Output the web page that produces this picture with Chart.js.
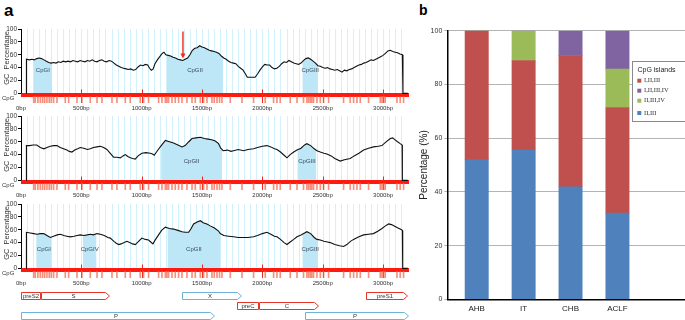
<!DOCTYPE html>
<html>
<head>
<meta charset="utf-8">
<script src="https://cdn.jsdelivr.net/npm/chart.js@4.4.1/dist/chart.umd.min.js"></script>
<style>
  body { margin: 0; background: #fff; width: 685px; height: 320px; overflow: hidden; position: relative;
         font-family: 'Liberation Sans', Arial, sans-serif; }
  .box { position: absolute; }
  .tag { position: absolute; font-weight: bold; line-height: 1; color: #000; }
</style>
</head>
<body>
<div class="tag" style="left:4px;top:2px;font-size:17px">a</div>
<div class="tag" style="left:419px;top:3px;font-size:14px">b</div>

<canvas class="box" id="gc1" width="415" height="92" style="left:0;top:23.3px"></canvas>
<canvas class="box" id="gc2" width="415" height="92" style="left:0;top:109.6px"></canvas>
<canvas class="box" id="gc3" width="415" height="92" style="left:0;top:198px"></canvas>
<canvas class="box" id="genes" width="415" height="34" style="left:0;top:288px"></canvas>
<canvas class="box" id="bars" width="270" height="320" style="left:415px;top:0"></canvas>

<script>
// ── données panneau a ─────────────────────────────────────────────
const GENOME_LEN = 3215;
const Y_TICKS = [0, 20, 40, 60, 80, 100];

// GC % (bp, %)
const GC1 = [[44,0],[45,53],[70,52],[90,53],[110,52],[130,54],[150,55],[170,54],[190,52],[210,50],[230,48],[250,47],[270,48],[290,47],[310,49],[330,48],[350,50],[370,49],[390,50],[410,49],[430,51],[450,50],[470,49],[490,51],[510,50],[530,49],[550,51],[570,50],[590,52],[610,50],[630,49],[650,51],[670,52],[690,50],[710,49],[730,51],[750,50],[770,47],[790,44],[810,42],[830,40],[850,39],[870,38],[890,37],[910,38],[930,36],[950,37],[970,41],[990,44],[1010,43],[1030,45],[1050,44],[1065,39],[1080,36],[1095,38],[1110,46],[1130,52],[1150,57],[1170,62],[1185,64],[1200,60],[1220,59],[1240,58],[1260,56],[1280,55],[1300,53],[1320,52],[1340,51],[1360,53],[1380,55],[1400,60],[1420,67],[1440,70],[1460,71],[1480,74],[1500,72],[1520,71],[1540,69],[1560,67],[1580,66],[1600,65],[1620,64],[1640,62],[1660,58],[1680,55],[1700,53],[1720,50],[1740,48],[1760,47],[1780,46],[1800,42],[1820,39],[1840,36],[1860,30],[1875,25],[1900,25],[1940,25],[1960,30],[1980,36],[2000,41],[2020,45],[2040,44],[2060,44],[2080,40],[2100,38],[2120,39],[2140,42],[2160,46],[2180,49],[2200,48],[2220,51],[2240,49],[2260,47],[2280,46],[2300,45],[2320,47],[2340,51],[2360,54],[2380,55],[2400,53],[2420,50],[2440,47],[2460,43],[2480,42],[2500,40],[2520,39],[2540,40],[2560,38],[2580,37],[2600,36],[2620,37],[2640,35],[2660,33],[2680,36],[2700,35],[2720,37],[2740,38],[2760,40],[2780,42],[2800,44],[2820,45],[2840,47],[2860,48],[2880,50],[2900,52],[2920,51],[2940,53],[2960,55],[2980,57],[3000,59],[3020,62],[3040,66],[3060,67],[3080,65],[3100,64],[3120,63],[3140,61],[3160,60],[3165,0],[3205,0]];

const GC2 = [[44,0],[45,54],[70,54],[100,55],[130,55],[160,51],[190,49],[215,51],[243,53],[270,54],[298,54],[325,51],[353,49],[380,47],[400,45],[422,44],[445,47],[470,49],[491,51],[520,50],[550,48],[574,49],[600,51],[630,52],[657,53],[685,51],[712,48],[740,42],[767,36],[795,36],[823,35],[845,38],[864,40],[885,37],[906,35],[925,34],[947,33],[970,38],[1002,42],[1035,43],[1071,42],[1090,41],[1104,39],[1130,46],[1154,52],[1175,57],[1196,62],[1230,60],[1264,58],[1300,55],[1334,52],[1360,54],[1390,60],[1417,65],[1450,66],[1486,67],[1520,65],[1550,64],[1580,63],[1610,61],[1637,57],[1655,50],[1675,46],[1710,47],[1740,45],[1761,46],[1800,48],[1844,46],[1880,48],[1927,49],[1960,51],[2000,53],[2038,54],[2070,52],[2100,49],[2121,48],[2150,44],[2180,39],[2204,35],[2230,40],[2260,44],[2287,47],[2320,50],[2350,55],[2369,57],[2400,54],[2430,49],[2452,46],[2480,44],[2510,42],[2535,41],[2570,38],[2600,34],[2645,30],[2680,32],[2728,34],[2760,38],[2800,42],[2839,47],[2880,50],[2921,52],[2960,53],[2991,54],[3020,59],[3060,65],[3080,66],[3100,63],[3120,60],[3142,57],[3158,55],[3160,0],[3205,0]];

const GC3 = [[44,0],[45,56],[77,55],[105,54],[133,53],[160,54],[188,54],[215,51],[243,48],[270,50],[300,52],[326,53],[355,51],[380,50],[408,49],[440,50],[465,51],[491,52],[520,51],[550,52],[574,53],[600,52],[630,54],[657,53],[690,51],[720,48],[740,47],[770,42],[790,39],[809,37],[830,38],[855,40],[878,42],[900,40],[925,38],[947,37],[970,41],[1002,47],[1030,45],[1057,44],[1075,41],[1093,38],[1115,45],[1140,52],[1165,59],[1196,64],[1230,62],[1264,61],[1300,59],[1334,57],[1360,56],[1389,56],[1410,62],[1430,69],[1460,72],[1486,74],[1510,71],[1540,69],[1568,66],[1600,63],[1637,58],[1651,54],[1680,51],[1720,50],[1761,49],[1800,48],[1844,48],[1880,48],[1927,49],[1960,51],[2000,54],[2038,56],[2070,53],[2100,50],[2121,49],[2150,45],[2180,40],[2204,37],[2230,41],[2260,45],[2287,49],[2320,52],[2350,55],[2369,57],[2400,54],[2430,48],[2452,45],[2480,44],[2510,42],[2540,41],[2562,40],[2600,37],[2640,35],[2673,34],[2700,37],[2730,42],[2756,45],[2800,49],[2839,52],[2880,53],[2921,54],[2960,58],[2991,62],[3020,66],[3046,69],[3070,68],[3100,65],[3120,63],[3142,61],[3160,59],[3163,0],[3205,0]];

// îlots CpG : nom, début, fin (bp)
const ISLANDS1 = [['CpGI',105,257],['CpGII',1210,1673],['CpGIII',2333,2460]];
const ISLANDS2 = [['CpGII',1162,1665],['CpGIII',2292,2446]];
const ISLANDS3 = [['CpGI',127,251],['CpGIV',514,624],['CpGII',1215,1651],['CpGIII',2333,2460]];

// sites CpG (bp)
const CPG_SITES = [105,118,140,160,179,196,215,234,251,270,298,367,395,464,505,574,630,671,754,795,864,905,988,1016,1057,1140,1168,1196,1209,1223,1251,1278,1306,1334,1375,1417,1444,1486,1513,1541,1582,1601,1624,1645,1665,1734,1831,1927,2024,2093,2121,2148,2231,2287,2341,2369,2383,2397,2410,2424,2452,2480,2507,2549,2673,2728,2756,2784,2811,2880,2977,2991,3004,3018,3115,3142,3170];

const ARROW_BP = 1342; // flèche rouge, graphe 1

// carte génomique
const GENE_NAMES = ['preS2','S','X','preS1','preC','C','P','P'];
const GENE_START = [0, 166, 1334, 2861, 1789, 1974, 0, 2350];
const GENE_END   = [166, 740, 1831, 3203, 1974, 2466, 1610, 3215];
const GENE_ROW   = ['r1','r1','r1','r1','r2','r2','r3','r3'];
const GENE_ROWS  = ['r1','r2','r3'];

// ── données panneau b ─────────────────────────────────────────────
const GROUPS = ['AHB', 'IT', 'CHB', 'ACLF'];
const S_II_III      = [51.9, 55.6, 41.9, 32.1];
const S_I_II_III    = [48.1, 33.3, 48.8, 39.3];
const S_II_III_IV   = [0, 11.1, 0, 14.3];
const S_I_II_III_IV = [0, 0, 9.3, 14.3];
const LEGEND_ORDER = ['I,II,III', 'I,II,III,IV', 'II,III,IV', 'II,III'];

const FONT = "'Liberation Sans', Arial, sans-serif";
const RED = '#ee2a1e';

// ── graphes GC ────────────────────────────────────────────────────
const gcDecor = {
  id: 'gcDecor',
  beforeDatasetsDraw(chart, args, o) {
    const { ctx, chartArea, scales: { x, y } } = chart;
    const y0 = y.getPixelForValue(0), y100 = y.getPixelForValue(100);
    ctx.save();
    // grille cyan pâle
    ctx.strokeStyle = 'rgba(190,236,248,0.7)';
    ctx.lineWidth = 1;
    x.ticks.forEach(t => {
      if (t.value <= 0 || t.value >= GENOME_LEN) return;
      const px = Math.round(x.getPixelForValue(t.value)) + 0.5;
      ctx.beginPath(); ctx.moveTo(px, y100); ctx.lineTo(px, y0); ctx.stroke();
    });
    // îlots : aire sous la courbe, coupée à chaque îlot
    const pts = chart.getDatasetMeta(0).data;
    ctx.fillStyle = '#bde6f6';
    o.islands.forEach(([, s, e]) => {
      const xs = x.getPixelForValue(s), xe = x.getPixelForValue(e);
      ctx.save();
      ctx.beginPath(); ctx.rect(xs, y100 - 5, xe - xs, y0 - y100 + 5); ctx.clip();
      ctx.beginPath();
      ctx.moveTo(pts[0].x, y0);
      pts.forEach(p => ctx.lineTo(p.x, p.y));
      ctx.lineTo(pts[pts.length - 1].x, y0);
      ctx.closePath(); ctx.fill();
      ctx.restore();
    });
    // piste CpG
    ctx.strokeStyle = '#ff1a10';
    ctx.lineWidth = 4;
    const yb = y.getPixelForValue(-2.5);
    ctx.beginPath(); ctx.moveTo(x.getPixelForValue(0), yb); ctx.lineTo(x.getPixelForValue(GENOME_LEN), yb); ctx.stroke();
    ctx.lineWidth = 1;
    ctx.strokeStyle = RED;
    x.ticks.forEach(t => {
      if (t.value % 500 !== 0 || t.value === 0) return;
      const px = Math.round(x.getPixelForValue(t.value)) + 0.5;
      ctx.beginPath(); ctx.moveTo(px, y.getPixelForValue(6)); ctx.lineTo(px, y.getPixelForValue(-15)); ctx.stroke();
    });
    // axe y
    ctx.strokeStyle = '#000';
    ctx.beginPath(); ctx.moveTo(chartArea.left + 0.5, y100); ctx.lineTo(chartArea.left + 0.5, y0); ctx.stroke();
    ctx.restore();
  },
  afterDatasetsDraw(chart, args, o) {
    const { ctx, scales: { x, y } } = chart;
    ctx.save();
    ctx.fillStyle = '#3b4a5a';
    ctx.font = `6px ${FONT}`;
    ctx.textAlign = 'center'; ctx.textBaseline = 'middle';
    o.islands.forEach(([name, s, e]) => {
      ctx.fillText(name, x.getPixelForValue((s + e) / 2), y.getPixelForValue(o.labelY));
    });
    ctx.fillStyle = '#333';
    ctx.textAlign = 'left';
    ctx.fillText('CpG', 2, y.getPixelForValue(-7));
    ctx.save();
    ctx.translate(7, y.getPixelForValue(55));
    ctx.rotate(-Math.PI / 2);
    ctx.textAlign = 'center';
    ctx.font = `7.5px ${FONT}`;
    ctx.fillText('GC  Percentage', 0, 0);
    ctx.restore();
    if (o.arrow != null) {
      const px = x.getPixelForValue(o.arrow);
      const top = y.getPixelForValue(96), tip = y.getPixelForValue(54);
      ctx.strokeStyle = RED; ctx.fillStyle = RED; ctx.lineWidth = 1.4;
      ctx.beginPath(); ctx.moveTo(px, top); ctx.lineTo(px, tip - 4); ctx.stroke();
      ctx.beginPath(); ctx.moveTo(px - 2.5, tip - 5); ctx.lineTo(px + 2.5, tip - 5); ctx.lineTo(px, tip); ctx.closePath(); ctx.fill();
    }
    ctx.restore();
  }
};

function makeGc(id, gc, islands, labelY, arrow) {
  return new Chart(document.getElementById(id), {
    type: 'line',
    plugins: [gcDecor],
    data: {
      datasets: [
        {
          type: 'line',
          label: 'GC',
          data: gc.map(([bp, v]) => ({ x: bp, y: v })),
          borderColor: '#111',
          borderWidth: 1.1,
          pointRadius: 0,
          tension: 0,
          order: 0,
        },
        {
          type: 'bar',
          label: 'CpG',
          data: CPG_SITES.map(bp => ({ x: bp, y: [-15, -4.6] })),
          backgroundColor: 'rgba(245,95,65,0.7)',
          barThickness: 1,
          order: 1,
        },
      ],
    },
    options: {
      responsive: false,
      animation: false,
      layout: { padding: { left: 0, right: 6, top: 6, bottom: 0 } },
      plugins: {
        legend: { display: false },
        tooltip: { enabled: false },
        gcDecor: { islands, labelY, arrow },
      },
      scales: {
        x: {
          type: 'linear', min: 0, max: GENOME_LEN, offset: false,
          afterFit: s => { s.height = 12; s.paddingLeft = 0; s.paddingRight = 0; },
          grid: { display: false, drawTicks: false },
          border: { display: false },
          ticks: {
            stepSize: 50, autoSkip: false, maxRotation: 0, padding: 2,
            font: { size: 6, family: FONT }, color: '#333',
            callback: v => (v % 500 === 0 ? v + 'bp' : ''),
          },
        },
        y: {
          min: -15, max: 100,
          afterBuildTicks: s => { s.ticks = Y_TICKS.map(v => ({ value: v })); },
          afterFit: s => { s.width = 21; },
          grid: { drawOnChartArea: false, drawTicks: true, tickLength: 3, color: '#000' },
          border: { display: false },
          ticks: { padding: 1, font: { size: 6.5, family: FONT }, color: '#333' },
        },
      },
    },
  });
}

makeGc('gc1', GC1, ISLANDS1, 35, ARROW_BP);
makeGc('gc2', GC2, ISLANDS2, 30, null);
makeGc('gc3', GC3, ISLANDS3, 29, null);

// ── carte génomique ───────────────────────────────────────────────
const GENE_COLOR = { preS2: '#e8352a', S: '#e8352a', preS1: '#e8352a', preC: '#e8352a', C: '#e8352a', X: '#6db3da', P: '#6db3da' };
const GENE_TIP = { S: true, X: true, preS1: true, C: true, P: true };

const geneShapes = {
  id: 'geneShapes',
  afterDatasetsDraw(chart) {
    const { ctx } = chart;
    const meta = chart.getDatasetMeta(0);
    ctx.save();
    ctx.lineWidth = 1;
    ctx.font = `6px ${FONT}`;
    ctx.textAlign = 'center'; ctx.textBaseline = 'middle';
    meta.data.forEach((el, i) => {
      const name = GENE_NAMES[i];
      const { x, y, base, height } = el.getProps(['x', 'y', 'base', 'height'], true);
      const x0 = Math.round(base) + 0.5, x1 = Math.round(x) - 0.5;
      const t = Math.round(y - height / 2) + 0.5, b = Math.round(y + height / 2) - 0.5;
      const tip = GENE_TIP[name] ? 4 : 0;
      ctx.strokeStyle = GENE_COLOR[name];
      ctx.beginPath();
      ctx.moveTo(x0, t); ctx.lineTo(x1 - tip, t); ctx.lineTo(x1, (t + b) / 2);
      ctx.lineTo(x1 - tip, b); ctx.lineTo(x0, b); ctx.closePath();
      ctx.stroke();
      ctx.fillStyle = '#333';
      ctx.fillText(name, (x0 + x1 - tip) / 2, (t + b) / 2 + 0.5);
    });
    ctx.restore();
  }
};

new Chart(document.getElementById('genes'), {
  type: 'bar',
  plugins: [geneShapes],
  data: {
    labels: GENE_ROWS,
    datasets: [{
      data: GENE_NAMES.map((n, i) => ({ y: GENE_ROW[i], x: [GENE_START[i], GENE_END[i]] })),
      backgroundColor: 'rgba(0,0,0,0)',
      borderWidth: 0,
      barPercentage: 0.72,
      categoryPercentage: 1,
    }],
  },
  options: {
    indexAxis: 'y',
    responsive: false,
    animation: false,
    layout: { padding: { left: 21, right: 6, top: 3, bottom: 1 } },
    plugins: { legend: { display: false }, tooltip: { enabled: false } },
    scales: {
      x: { type: 'linear', min: 0, max: GENOME_LEN, display: false },
      y: { display: false },
    },
  },
});

// ── panneau b : barres empilées ───────────────────────────────────
const barLegend = {
  id: 'barLegend',
  afterDraw(chart) {
    const { ctx } = chart;
    const ds = chart.data.datasets;
    ctx.save();
    ctx.strokeStyle = '#8a8a8a';
    ctx.lineWidth = 1;
    ctx.fillStyle = '#fff';
    ctx.fillRect(217.5, 61.5, 60, 60);
    ctx.strokeRect(217.5, 61.5, 60, 60);
    ctx.fillStyle = '#222';
    ctx.font = `7px ${FONT}`;
    ctx.textAlign = 'center'; ctx.textBaseline = 'middle';
    ctx.fillText('CpG islands', 241.5, 70);
    ctx.textAlign = 'left';
    ctx.font = `6.5px 'Liberation Serif', 'Times New Roman', serif`;
    const rows = [80.7, 90.7, 100.7, 113];
    LEGEND_ORDER.forEach((lab, k) => {
      const d = ds.find(s => s.label === lab);
      ctx.fillStyle = d.backgroundColor;
      ctx.fillRect(222.3, rows[k] - 2, 4, 4);
      ctx.fillStyle = '#333';
      ctx.fillText(lab, 229, rows[k]);
    });
    ctx.restore();
  }
};

new Chart(document.getElementById('bars'), {
  type: 'bar',
  plugins: [barLegend],
  data: {
    datasets: [
      { label: 'II,III',      data: S_II_III.map((v, i) => ({ x: i, y: v })),      backgroundColor: '#4f81bd' },
      { label: 'I,II,III',    data: S_I_II_III.map((v, i) => ({ x: i, y: v })),    backgroundColor: '#c0504d' },
      { label: 'II,III,IV',   data: S_II_III_IV.map((v, i) => ({ x: i, y: v })),   backgroundColor: '#9bbb59' },
      { label: 'I,II,III,IV', data: S_I_II_III_IV.map((v, i) => ({ x: i, y: v })), backgroundColor: '#8064a2' },
    ],
  },
  options: {
    responsive: false,
    animation: false,
    datasets: { bar: { barThickness: 23.3, borderWidth: 0 } },
    layout: { padding: { left: 0, right: 0, top: 30.7, bottom: 0 } },
    plugins: { legend: { display: false }, tooltip: { enabled: false } },
    scales: {
      x: {
        type: 'linear', stacked: true, offset: false,
        min: -0.627, max: 4.44,
        afterBuildTicks: s => { s.ticks = GROUPS.map((g, i) => ({ value: i })); },
        afterFit: s => { s.height = 20.7; s.paddingLeft = 0; s.paddingRight = 0; },
        grid: { display: false, drawTicks: false },
        border: { display: true, color: '#000', width: 1.5 },
        ticks: { padding: 5, font: { size: 8, family: FONT }, color: '#222', callback: v => GROUPS[v] },
      },
      y: {
        stacked: true, min: 0, max: 100,
        afterFit: s => { s.width = 32.3; },
        grid: { color: '#b4b4b4', tickLength: 3 },
        border: { display: true, color: '#000', width: 1.5 },
        ticks: { stepSize: 20, padding: 2, font: { size: 7, family: FONT }, color: '#333' },
        title: { display: true, text: 'Percentage (%)', font: { size: 10, family: FONT }, color: '#222', padding: { top: 3, bottom: 0 } },
      },
    },
  },
});
</script>
</body>
</html>
